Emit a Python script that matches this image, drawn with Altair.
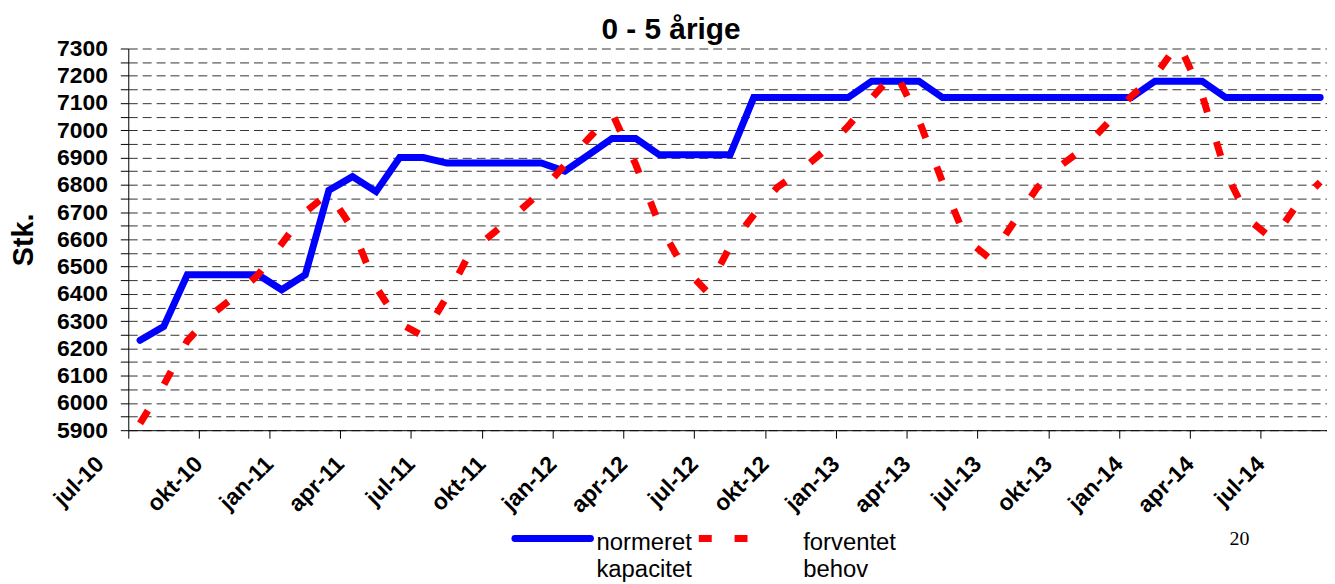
import altair as alt
import pandas as pd

# ---------------- data ----------------
months = [
    "jul-10", "aug-10", "sep-10", "okt-10", "nov-10", "dec-10",
    "jan-11", "feb-11", "mar-11", "apr-11", "maj-11", "jun-11",
    "jul-11", "aug-11", "sep-11", "okt-11", "nov-11", "dec-11",
    "jan-12", "feb-12", "mar-12", "apr-12", "maj-12", "jun-12",
    "jul-12", "aug-12", "sep-12", "okt-12", "nov-12", "dec-12",
    "jan-13", "feb-13", "mar-13", "apr-13", "maj-13", "jun-13",
    "jul-13", "aug-13", "sep-13", "okt-13", "nov-13", "dec-13",
    "jan-14", "feb-14", "mar-14", "apr-14", "maj-14", "jun-14",
    "jul-14", "aug-14", "sep-14",
]

normeret = [
    6230, 6280, 6470, 6470, 6470, 6470,
    6415, 6470, 6780, 6830, 6775, 6900,
    6900, 6880, 6880, 6880, 6880, 6880,
    6850, 6910, 6970, 6970, 6910, 6910,
    6910, 6910, 7120, 7120, 7120, 7120,
    7120, 7180, 7180, 7180, 7120, 7120,
    7120, 7120, 7120, 7120, 7120, 7120,
    7120, 7180, 7180, 7180, 7120, 7120,
    7120, 7120, 7120,
]

forventet = [
    5925, 6065, 6228, 6322, 6390, 6470,
    6583, 6700, 6770, 6640, 6425, 6292,
    6245, 6390, 6555, 6625, 6698, 6776,
    6873, 6970, 7063, 6875, 6655, 6500,
    6410, 6575, 6690, 6791, 6852, 6926,
    7015, 7118, 7215, 7037, 6810, 6600,
    6530, 6660, 6788, 6870, 6935, 7027,
    7125, 7200, 7320, 7129, 6845, 6670,
    6600, 6724, 6810,
]

x_tick_labels = months[::3]
y_ticks = list(range(5900, 7301, 50))

title_text = "0 - 5 årige"
y_title = "Stk."
legend_blue = ["normeret", "kapacitet"]
legend_red = ["forventet", "behov"]
page_no = "20"

df = pd.DataFrame({"maaned": months, "normeret": normeret, "forventet": forventet})
one = pd.DataFrame({"k": [0]})

FONT = "Liberation Sans"
W, H = 1206, 384
L, T, B = 121, 39, 156
X0, Y0 = 129, 47  # plot origin in page pixels (for annotation offsets)
X_RANGE = 1211     # band scale runs slightly past the right edge, as in the source

x_enc = alt.X(
    "maaned:N",
    sort=months,
    bandPosition=0.5,
    scale=alt.Scale(type="band", paddingInner=0, paddingOuter=0, range=[0, X_RANGE]),
    axis=alt.Axis(
        values=x_tick_labels,
        bandPosition=0,
        title=None,
        labelAngle=-45,
        labelAlign="right",
        labelBaseline="middle",
        labelFont=FONT,
        labelFontSize=23,
        labelFontWeight="bold",
        labelColor="black",
        labelPadding=22,
        labelOffset={"condition": {"test": "datum.value === 'jul-10'", "value": -40},
                     "value": -12},
        labelOverlap=False,
        labelBound=False,
        tickSize=8,
        tickColor="black",
        domainColor="black",
        grid=False,
    ),
)


def y_enc(field):
    return alt.Y(
        f"{field}:Q",
        scale=alt.Scale(domain=[5900, 7300], nice=False, zero=False),
        axis=alt.Axis(
            values=y_ticks,
            format="d",
            labelExpr="datum.value % 100 === 0 ? datum.label : ''",
            title=y_title,
            titleFont=FONT,
            titleFontSize=29,
            titleFontWeight="bold",
            titleColor="black",
            titleAngle=-90,
            titleAlign="center",
            titleBaseline="middle",
            titleX=-105,
            titleY=H / 2,
            labelFont=FONT,
            labelFontSize=23,
            labelFontWeight="bold",
            labelColor="black",
            labelPadding=13,
            tickSize=8,
            tickColor="black",
            domainColor="black",
            grid=True,
            gridDash=[9, 5],
            gridColor="#333333",
            gridWidth=1,
        ),
    )


base = alt.Chart(df)

blue = base.mark_line(
    color="#0000FF", strokeWidth=7, strokeCap="round", clip=True
).encode(x=x_enc, y=y_enc("normeret"))

red = base.mark_line(
    color="#FF0000", strokeWidth=7, strokeDash=[15, 31], strokeCap="butt", clip=True
).encode(x=x_enc, y=y_enc("forventet"))

ann = alt.Chart(one)

title_mark = ann.mark_text(
    font=FONT, fontSize=30, fontWeight="bold", color="black",
    align="center", baseline="alphabetic"
).encode(x=alt.value(675 - X0), y=alt.value(37 - Y0), text=alt.value(title_text))

leg_blue_line = ann.mark_rule(
    color="#0000FF", strokeWidth=7, strokeCap="round"
).encode(x=alt.value(518 - X0), x2=alt.value(594 - X0), y=alt.value(540 - Y0))

leg_red_line = ann.mark_rule(
    color="#FF0000", strokeWidth=7, strokeDash=[13, 23], strokeCap="butt"
).encode(x=alt.value(703 - X0), x2=alt.value(752 - X0), y=alt.value(540 - Y0))

leg_blue_text = ann.mark_text(
    font=FONT, fontSize=24, color="black", align="left",
    baseline="alphabetic", lineHeight=27
).encode(x=alt.value(600 - X0), y=alt.value(552 - Y0), text=alt.value(legend_blue))

leg_red_text = ann.mark_text(
    font=FONT, fontSize=24, color="black", align="left",
    baseline="alphabetic", lineHeight=27
).encode(x=alt.value(808 - X0), y=alt.value(552 - Y0), text=alt.value(legend_red))

page_mark = ann.mark_text(
    font="Liberation Serif", fontSize=20, color="black", align="center",
    baseline="alphabetic"
).encode(x=alt.value(1247 - X0), y=alt.value(547 - Y0), text=alt.value(page_no))

chart = (
    alt.layer(
        blue, red, title_mark, leg_blue_line, leg_red_line,
        leg_blue_text, leg_red_text, page_mark
    )
    .properties(
        width=W,
        height=H,
        padding={"left": L, "top": T, "right": 0, "bottom": B},
        autosize=alt.AutoSizeParams(type="none"),
        background="white",
    )
    .configure_view(stroke=None)
)

chart.save("out.html", embed_options={"renderer": "svg", "actions": False})
